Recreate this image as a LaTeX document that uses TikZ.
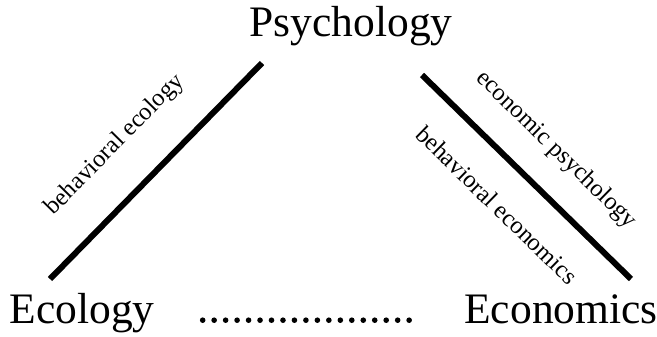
\documentclass[tikz,border=0pt]{standalone}
\usepackage{fontspec}
\setmainfont{Liberation Serif}
\usepackage{tikz}

\tikzset{
  field/.style={inner sep=0pt, anchor=base, font=\fontsize{43.5}{50}\selectfont},
  link/.style={line width=6pt},
  dotlink/.style={line width=5.6pt, line cap=round, dash pattern=on 0pt off 11.47pt},
  tag/.style={inner sep=0pt, font=\fontsize{24.5}{28}\selectfont},
}

\begin{document}
\begin{tikzpicture}[x=1pt, y=-1pt]
    \useasboundingbox (0,0) rectangle (657,337);

    % the three fields
    \node[field] (psy) at (351,37) {Psychology};
    \node[field] (ecol) at (82,323) {Ecology};
    \node[field] (econ) at (561,323) {Economics};

    % line ends
    \coordinate (lbot) at (50,279);
    \coordinate (ltop) at (262,63);
    \coordinate (rtop) at (422,75);
    \coordinate (rbot) at (631,279);

    \draw[link] (lbot) -- (ltop);
    \draw[link] (rtop) -- (rbot);
    \draw[dotlink] ([shift={(48,-2.8)}]ecol.base east) -- ([shift={(-43.8,-2.8)}]econ.base west);

    % labels along the lines
    \node[tag, rotate=45.5] (bhecol) at (115,145) {behavioral ecology};
    \node[tag, rotate=-44.3] (ecpsy) at (556,150) {economic psychology};
    \node[tag, rotate=-44.3] (bhecon) at (497,205) {behavioral economics};
\end{tikzpicture}
\end{document}
